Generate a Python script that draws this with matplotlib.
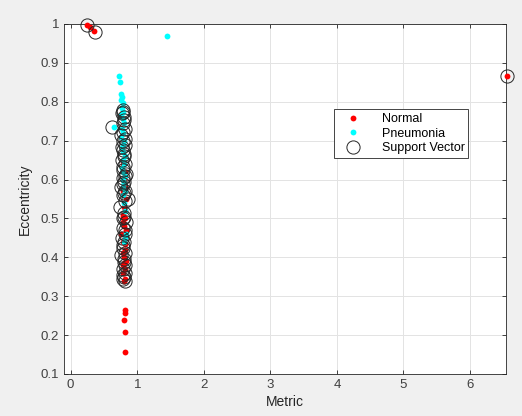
import numpy as np
import matplotlib
matplotlib.use('Agg')
import matplotlib.pyplot as plt

plt.rcParams['font.family'] = ['Liberation Sans', 'DejaVu Sans']

# Normal class (red)
normal_x = [0.24, 0.29, 0.35, 6.55,
            0.82, 0.81, 0.80, 0.82, 0.81,
            0.80, 0.82, 0.78, 0.81, 0.79, 0.83, 0.80, 0.78, 0.82, 0.79,
            0.81, 0.76, 0.83, 0.80, 0.78, 0.82, 0.79, 0.81, 0.80, 0.83,
            0.78, 0.82, 0.80, 0.81, 0.79, 0.80, 0.82, 0.79]
normal_y = [0.997, 0.992, 0.982, 0.866,
            0.265, 0.257, 0.239, 0.208, 0.157,
            0.340, 0.345, 0.360, 0.370, 0.380, 0.390, 0.400, 0.410, 0.420, 0.440,
            0.450, 0.460, 0.470, 0.480, 0.490, 0.500, 0.510, 0.520, 0.530, 0.550,
            0.570, 0.580, 0.600, 0.620, 0.640, 0.385, 0.435, 0.505]

# Pneumonia class (cyan)
pneu_x = [1.45, 0.73, 0.74, 0.76, 0.77, 0.76, 0.78, 0.77, 0.79, 0.76,
          0.78, 0.80, 0.65, 0.77, 0.79, 0.76, 0.80, 0.78, 0.77, 0.79,
          0.81, 0.78, 0.80, 0.77, 0.79, 0.82, 0.78, 0.80, 0.79, 0.81,
          0.78, 0.80, 0.82, 0.83, 0.81, 0.80]
pneu_y = [0.969, 0.867, 0.851, 0.820, 0.812, 0.805, 0.797, 0.785, 0.775, 0.765,
          0.755, 0.745, 0.735, 0.730, 0.720, 0.710, 0.700, 0.690, 0.680, 0.670,
          0.660, 0.650, 0.640, 0.630, 0.620, 0.610, 0.600, 0.590, 0.580, 0.570,
          0.560, 0.540, 0.520, 0.460, 0.450, 0.440]

# Support vectors (open circles)
sv_x = [0.24, 0.37, 6.55, 0.62,
        0.79, 0.77, 0.80, 0.78, 0.81, 0.76, 0.79, 0.82, 0.78, 0.80,
        0.77, 0.81, 0.79, 0.83, 0.78, 0.80, 0.76, 0.82, 0.79, 0.81,
        0.74, 0.80, 0.78, 0.83, 0.79, 0.81, 0.77, 0.86, 0.80, 0.78,
        0.82, 0.80, 0.76, 0.81, 0.79, 0.82, 0.80, 0.78, 0.81, 0.80,
        0.78, 0.80, 0.79, 0.81, 0.77, 0.80, 0.79, 0.82, 0.78, 0.80,
        0.81, 0.79, 0.80, 0.78]
sv_y = [0.997, 0.980, 0.866, 0.735,
        0.780, 0.770, 0.760, 0.745, 0.730, 0.715, 0.700, 0.690, 0.675, 0.660,
        0.650, 0.640, 0.625, 0.615, 0.605, 0.595, 0.580, 0.570, 0.560, 0.545,
        0.530, 0.515, 0.500, 0.490, 0.475, 0.460, 0.450, 0.550, 0.440, 0.425,
        0.410, 0.395, 0.405, 0.380, 0.370, 0.360, 0.350, 0.345, 0.340, 0.505,
        0.775, 0.752, 0.722, 0.705, 0.683, 0.667, 0.632, 0.610, 0.588, 0.565,
        0.470, 0.432, 0.388, 0.355]

fig = plt.figure(figsize=(5.22, 4.16), dpi=100, facecolor='#f0f0f0')
ax = fig.add_axes([64/522, 1-374/416, 442/522, 350/416])
ax.set_facecolor('white')

ax.plot(normal_x, normal_y, 'o', color='#ff0000', markersize=4.2, markeredgewidth=0,
        label='Normal', clip_on=False, zorder=3)
ax.plot(pneu_x, pneu_y, 'o', color='#00ffff', markersize=4.2, markeredgewidth=0,
        label='Pneumonia', clip_on=False, zorder=3)
ax.plot(sv_x, sv_y, 'o', markerfacecolor='none', markeredgecolor='#262626', markersize=9.5,
        markeredgewidth=0.7, label='Support Vector', clip_on=False, zorder=4)

ax.set_xlim(-0.1, 6.54)
ax.set_ylim(0.1, 1.0)
ax.set_xticks(range(0, 7))
ax.set_yticks(np.round(np.arange(0.1, 1.01, 0.1), 1))
ax.set_yticklabels(['0.1', '0.2', '0.3', '0.4', '0.5', '0.6', '0.7', '0.8', '0.9', '1'])
ax.grid(True, color='#e3e3e3', linewidth=0.7)
ax.set_axisbelow(True)
ax.tick_params(direction='in', length=3, width=0.6, colors='#262626', labelcolor='#404040',
               labelsize=9.5, top=True, right=True)
for s in ax.spines.values():
    s.set_color('#262626')
    s.set_linewidth(0.6)
    s.set_zorder(2)

ax.set_xlabel('Metric', fontsize=10, color='#262626', labelpad=3)
ax.set_ylabel('Eccentricity', fontsize=10, color='#262626', labelpad=6)

leg = ax.legend(loc='upper left', bbox_to_anchor=(0.597, 0.774), fontsize=9, frameon=True,
                fancybox=False, framealpha=1, edgecolor='#262626', borderpad=0.3,
                labelspacing=0.2, handletextpad=1.0, handlelength=2.5)
leg.get_frame().set_linewidth(0.6)
leg.set_zorder(5)

fig.savefig('out.png', dpi=100, facecolor=fig.get_facecolor())
